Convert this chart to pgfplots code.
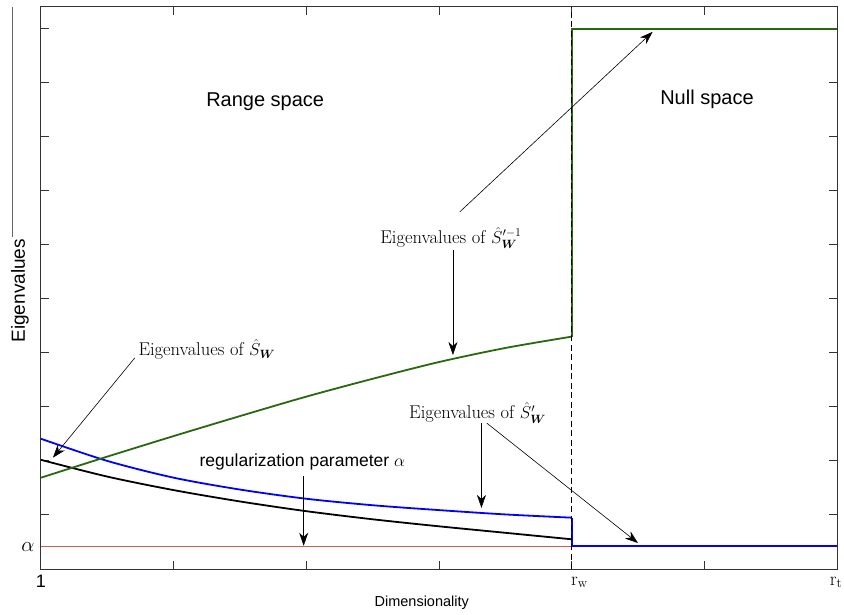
\documentclass[border=0pt]{standalone}
\usepackage{amsmath}
\usepackage{fontspec}
\setsansfont{Liberation Sans}
\usepackage{pgfplots}
\pgfplotsset{compat=1.18}
\usetikzlibrary{arrows.meta}
\definecolor{dgreen}{RGB}{40,105,15}
\definecolor{lred}{RGB}{215,90,75}
\begin{document}
\begin{tikzpicture}
\begin{axis}[
  scale only axis, width=796pt, height=562pt,
  xmin=0, xmax=6, ymin=0, ymax=10.4,
  axis line style={black!80, line width=1pt},
  xtick={0,1,2,3,4,5,6}, xticklabels={},
  ytick={0,1,...,10}, yticklabels={},
  extra y ticks={0.41}, extra y tick labels={\sffamily$\alpha$},
  extra y tick style={major tick length=0pt, yticklabel style={font=\fontsize{20}{24}\selectfont, xshift=-3pt}},
  tick align=inside, major tick length=8pt,
  tick style={black!80, line width=1pt},
  clip=false,
]
\coordinate (ll) at (rel axis cs:0,0);
\coordinate (ur) at (rel axis cs:1,1);
% red regularization parameter
\addplot[lred, line width=1pt] coordinates {(0,0.41) (6,0.41)};
% black: eigenvalues of S_W
\addplot[black, line width=1.8pt, smooth] coordinates {
 (0,2.02) (0.5,1.71) (1,1.46) (1.5,1.25) (2,1.07) (2.5,0.92) (3,0.79) (3.5,0.67) (4,0.55)};
% blue: eigenvalues of S'_W
\addplot[blue, line width=1.8pt, smooth] coordinates {
 (0,2.41) (0.5,2.00) (1,1.69) (1.5,1.47) (2,1.30) (2.5,1.18) (3,1.09) (3.5,1.01) (4,0.95)};
\addplot[blue, line width=1.8pt] coordinates {(4,0.95) (4,0.43) (6,0.43)};
% green: eigenvalues of S'_W^-1
\addplot[dgreen, line width=1.8pt, smooth] coordinates {
 (0,1.69) (0.5,2.08) (1,2.46) (1.5,2.83) (2,3.19) (2.5,3.52) (3,3.83) (3.5,4.09) (4,4.30)};
\addplot[dgreen, line width=1.8pt] coordinates {(4,4.30) (4,10) (6,10)};
% dashed boundary
\addplot[black, line width=1.6pt, dash pattern=on 6pt off 3.5pt] coordinates {(4,0) (4,10.4)};

% x tick labels
\node[font=\sffamily\fontsize{18}{21}\selectfont, anchor=base, inner sep=0pt] at (axis cs:0,-0.333) {1};
\node[font=\fontsize{19}{22}\selectfont, anchor=base west, inner sep=0pt] at (axis cs:3.995,-0.30) {r$_{\mathrm{w}}$};
\node[font=\fontsize{19}{22}\selectfont, anchor=base east, inner sep=0pt] at (axis cs:6.04,-0.30) {r$_{\mathrm{t}}$};

% texts
\node[font=\sffamily\fontsize{20}{24}\selectfont] at (axis cs:1.69,8.65) {Range space};
\node[font=\sffamily\fontsize{20}{24}\selectfont] at (axis cs:5.02,8.69) {Null space};
\node[font=\fontsize{18.5}{22}\selectfont] at (axis cs:3.09,6.13) {Eigenvalues of $\hat{S}'^{-1}_{\boldsymbol{W}}$};
\node[font=\fontsize{18.5}{22}\selectfont] at (axis cs:1.25,4.06) {Eigenvalues of $\hat{S}_{\boldsymbol{W}}$};
\node[font=\fontsize{18.5}{22}\selectfont] at (axis cs:3.29,2.89) {Eigenvalues of $\hat{S}'_{\boldsymbol{W}}$};
\node[font=\sffamily\fontsize{17.5}{21}\selectfont] at (axis cs:1.97,1.98) {regularization parameter $\alpha$};
\node[font=\sffamily\fontsize{19}{22}\selectfont, rotate=90] at (axis cs:-0.158,5.15) {Eigenvalues};
\node[font=\sffamily\fontsize{14.5}{17}\selectfont] at (axis cs:2.87,-0.62) {Dimensionality};
\draw[black!60, line width=0.6pt] (axis cs:-0.219,10.4) -- (axis cs:-0.219,6.15);

% arrows
\tikzset{arr/.style={black, line width=0.6pt, -{Stealth[length=13pt,width=9pt,inset=4pt]}}}
\draw[arr] (axis cs:3.157,6.61) -- (axis cs:4.61,9.94);
\draw[arr] (axis cs:3.105,5.90) -- (axis cs:3.105,3.96);
\draw[arr] (axis cs:0.708,3.91) -- (axis cs:0.09,2.06);
\draw[arr] (axis cs:3.32,2.70) -- (axis cs:3.32,1.13);
\draw[arr] (axis cs:3.36,2.70) -- (axis cs:4.50,0.48);
\draw[arr] (axis cs:1.98,1.72) -- (axis cs:1.98,0.43);
\end{axis}
\pgfresetboundingbox
\path ([shift={(-41pt,-45pt)}]ll) rectangle ([shift={(7pt,7pt)}]ur);
\end{tikzpicture}
\end{document}
